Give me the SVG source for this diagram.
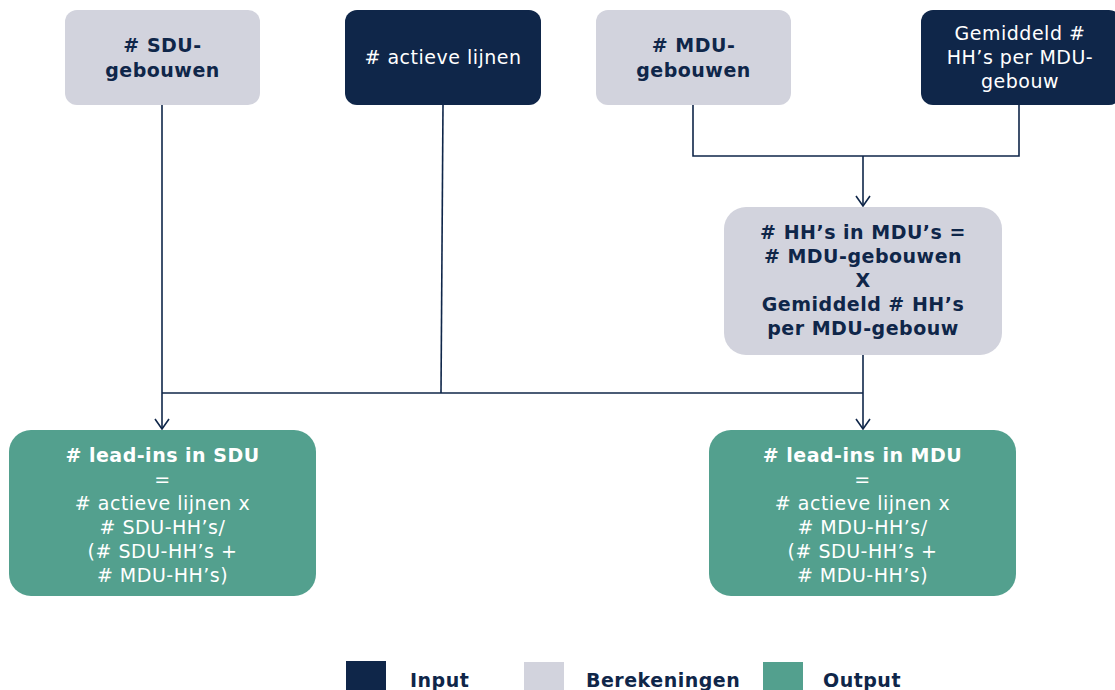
<svg xmlns="http://www.w3.org/2000/svg" width="1115" height="690" viewBox="0 0 1115 690">
<defs>
<style>
.calc{fill:#D2D3DD}
.inp{fill:#0F2649}
.out{fill:#53A08E}
text{font-family:"DejaVu Sans","Liberation Sans",sans-serif;font-size:19px;letter-spacing:0.5px;text-anchor:middle}
.b{font-weight:bold}
.dk{fill:#0F2649}
.wt{fill:#FFFFFF}
.ln{fill:none;stroke:#0F2649;stroke-width:1.6}
.leg{text-anchor:start;font-weight:bold;fill:#0F2649}
</style>
<marker id="arr" markerWidth="12" markerHeight="16" refX="11" refY="8" orient="auto" markerUnits="userSpaceOnUse" viewBox="0 0 12 16">
<path d="M1,1 L11,8 L1,15" fill="none" stroke="#0F2649" stroke-width="1.6"/>
</marker>
</defs>
<rect width="1115" height="690" fill="#FFFFFF"/>
<g id="connectors">
<path class="ln" d="M162,105 V429" marker-end="url(#arr)"/>
<path class="ln" d="M443,105 L441,393"/>
<path class="ln" d="M162,393 H863"/>
<path class="ln" d="M693,105 V156 H1019 V105"/>
<path class="ln" d="M863,156 V206" marker-end="url(#arr)"/>
<path class="ln" d="M863,355 V429" marker-end="url(#arr)"/>
</g>
<g id="sdu-gebouwen">
<rect class="calc" x="65" y="10" width="195" height="95" rx="12"/>
<text class="b dk" x="162.5" y="52">
<tspan x="162.5"># SDU-</tspan><tspan x="162.5" dy="25">gebouwen</tspan></text>
</g>
<g id="actieve-lijnen">
<rect class="inp" x="345" y="10" width="196" height="95" rx="12"/>
<text class="wt" x="443" y="64"># actieve lijnen</text>
</g>
<g id="mdu-gebouwen">
<rect class="calc" x="596" y="10" width="195" height="95" rx="12"/>
<text class="b dk" x="693.5" y="52">
<tspan x="693.5"># MDU-</tspan><tspan x="693.5" dy="25">gebouwen</tspan></text>
</g>
<g id="gemiddeld-hh">
<rect class="inp" x="921" y="10" width="200" height="95" rx="12"/>
<text class="wt" x="1020" y="40">
<tspan x="1020">Gemiddeld #</tspan><tspan x="1020" dy="24">HH’s per MDU-</tspan><tspan x="1020" dy="24">gebouw</tspan></text>
</g>
<g id="hh-in-mdu">
<rect class="calc" x="724" y="207" width="278" height="148" rx="22"/>
<text class="b dk" x="863" y="239">
<tspan x="863"># HH’s in MDU’s =</tspan><tspan x="863" dy="24"># MDU-gebouwen</tspan><tspan x="863" dy="24">X</tspan><tspan x="863" dy="24">Gemiddeld # HH’s</tspan><tspan x="863" dy="24">per MDU-gebouw</tspan></text>
</g>
<g id="lead-ins-sdu">
<rect class="out" x="9" y="430" width="307" height="166" rx="22"/>
<text class="wt" x="162.5" y="462">
<tspan x="162.5" class="b"># lead-ins in SDU</tspan><tspan x="162.5" dy="24">=</tspan><tspan x="162.5" dy="24"># actieve lijnen x</tspan><tspan x="162.5" dy="24"># SDU-HH’s/</tspan><tspan x="162.5" dy="24">(# SDU-HH’s +</tspan><tspan x="162.5" dy="24"># MDU-HH’s)</tspan></text>
</g>
<g id="lead-ins-mdu">
<rect class="out" x="709" y="430" width="307" height="166" rx="22"/>
<text class="wt" x="862.5" y="462">
<tspan x="862.5" class="b"># lead-ins in MDU</tspan><tspan x="862.5" dy="24">=</tspan><tspan x="862.5" dy="24"># actieve lijnen x</tspan><tspan x="862.5" dy="24"># MDU-HH’s/</tspan><tspan x="862.5" dy="24">(# SDU-HH’s +</tspan><tspan x="862.5" dy="24"># MDU-HH’s)</tspan></text>
</g>
<g id="legend">
<rect class="inp" x="346" y="661" width="40" height="29"/>
<text class="leg" x="410" y="687">Input</text>
<rect class="calc" x="524" y="662" width="40" height="28"/>
<text class="leg" x="586" y="687">Berekeningen</text>
<rect class="out" x="763" y="662" width="40" height="28"/>
<text class="leg" x="823" y="687">Output</text>
</g>
</svg>
